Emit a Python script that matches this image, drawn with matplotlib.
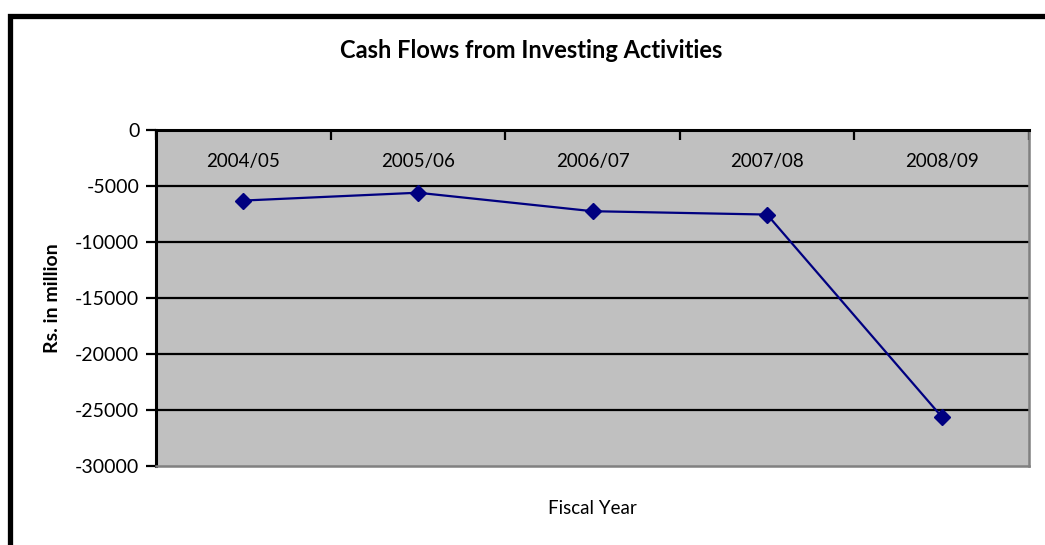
import matplotlib
matplotlib.use("Agg")
import matplotlib.pyplot as plt
from matplotlib.patches import Rectangle

years = ["2004/05", "2005/06", "2006/07", "2007/08", "2008/09"]
cash_flows = [-6300, -5600, -7250, -7550, -25600]
y_ticks = [0, -5000, -10000, -15000, -20000, -25000, -30000]

plt.rcParams['font.family'] = ['Lato', 'DejaVu Sans']

W, H = 1045, 545
fig = plt.figure(figsize=(W / 100, H / 100), dpi=100)

def fx(px):
    return px / W

def fy(py):
    return 1 - py / H

# outer chart border (cropped at right/bottom)
fig.patches.append(Rectangle((fx(10), fy(700)), fx(1200), (700 - 16) / H,
                             transform=fig.transFigure, fill=False,
                             edgecolor='black', linewidth=3.8, zorder=10))

left, right, top, bottom = 156, 1029, 130, 466
ax = fig.add_axes([fx(left), fy(bottom), fx(right - left), (bottom - top) / H])
ax.set_facecolor('#C0C0C0')

x = list(range(len(years)))
ax.set_xlim(-0.5, len(years) - 0.5)
ax.set_ylim(-30000, 0)

for v in y_ticks[1:-1]:
    ax.axhline(v, color='black', linewidth=1.6, zorder=1)

ax.plot(x, cash_flows, color='#000080', linewidth=1.6, marker='D',
        markersize=8, markerfacecolor='#000080', markeredgecolor='#000080', zorder=3)

ax.set_yticks(y_ticks)
ax.set_yticklabels([str(v) for v in y_ticks])
ax.tick_params(axis='y', direction='out', length=7, width=1.6, labelsize=14, pad=5, colors='black')

# category boundary ticks on the top axis line
ax.set_xticks([i - 0.5 for i in range(len(years) + 1)])
ax.set_xticklabels([])
ax.tick_params(axis='x', which='major', top=True, bottom=False, labeltop=False, labelbottom=False,
               direction='in', length=7, width=1.6)
# category labels inside the plot, just below top axis
ax.set_xticks(x, minor=True)
ax.set_xticklabels(years, minor=True)
ax.tick_params(axis='x', which='minor', top=True, bottom=False, labeltop=True, labelbottom=False,
               length=0, pad=-29, labelsize=13.5)

for s in ['left', 'top']:
    ax.spines[s].set_color('black')
    ax.spines[s].set_linewidth(2.2)
for s in ['right', 'bottom']:
    ax.spines[s].set_color('#808080')
    ax.spines[s].set_linewidth(1.8)

fig.text(fx(531), fy(50), "Cash Flows from Investing Activities", ha='center', va='center',
         fontsize=17, fontweight='bold')
fig.text(fx(53), fy(298), "Rs. in million", ha='center', va='center', rotation=90,
         fontsize=14, fontweight='bold')
fig.text(fx(592), fy(508), "Fiscal Year", ha='center', va='center', fontsize=13.5)

fig.savefig("out.png", dpi=100)
